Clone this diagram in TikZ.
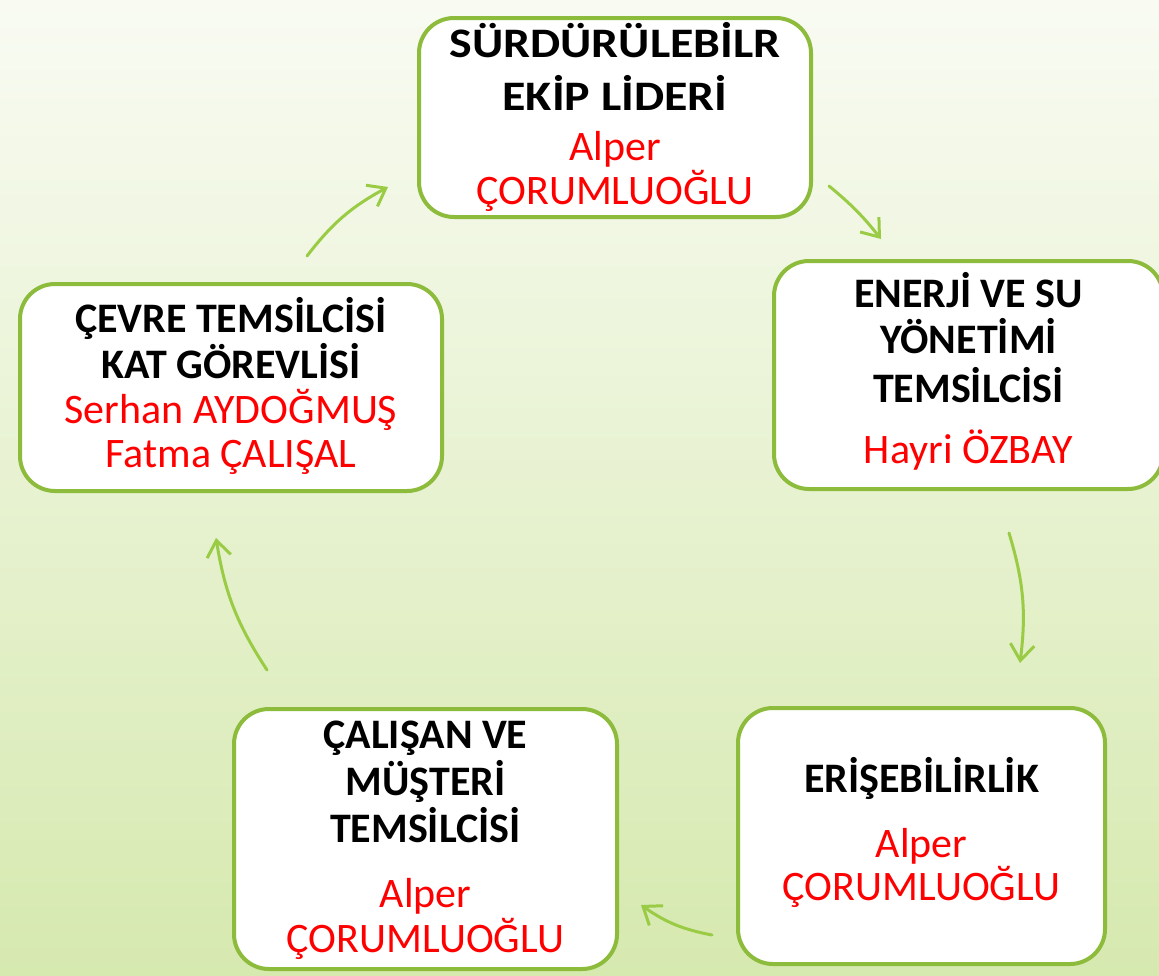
\documentclass[tikz,border=0pt]{standalone}
\usepackage{fontspec}
\setmainfont{Carlito}
\usetikzlibrary{arrows.meta}
\definecolor{bgtop}{HTML}{F9FBF3}
\definecolor{bgbot}{HTML}{D6E9AF}
\definecolor{boxline}{HTML}{8DBB3B}
\definecolor{arrowc}{HTML}{9ACB45}
\newcommand{\wideline}[1]{\scalebox{1.14}[1]{#1}}
\tikzset{
  box/.style={draw=boxline, line width=4pt, fill=white, rounded corners=35pt, inner sep=0pt},
  hd/.style={anchor=base, font=\fontsize{42}{46}\selectfont\bfseries, text=black, inner sep=0pt},
  nm/.style={anchor=base, font=\fontsize{42}{46}\selectfont, text=red, inner sep=0pt},
  flow/.style={draw=arrowc, line width=3pt, line cap=round,
    -{Straight Barb[length=16pt,width=24pt,line width=3pt]}, bend left=12},
}
\begin{document}
\begin{tikzpicture}[x=1pt,y=-1pt]
\useasboundingbox (0,0) rectangle (1159,975);
\shade[top color=bgtop, bottom color=bgbot] (0,0) rectangle (1159,975);

% boxes
\node[box, minimum width=392pt, minimum height=199pt] (lead) at (615,117.5) {};
\node[box, minimum width=389pt, minimum height=228pt] (energy) at (968.5,375) {};
\node[box, minimum width=367pt, minimum height=256pt] (access) at (921.5,836) {};
\node[box, minimum width=383pt, minimum height=260pt] (staff) at (425.5,839) {};
\node[box, minimum width=422pt, minimum height=207pt] (env) at (231,387.5) {};

% texts: top box
\node[hd] (leadA) at (615,57) {\wideline{SÜRDÜRÜLEBİLR}};
\node[hd] (leadB) at (615,110) {\wideline{EKİP LİDERİ}};
\node[nm] (leadC) at (615,160) {Alper};
\node[nm] (leadD) at (615,204) {ÇORUMLUOĞLU};

% right box
\node[hd] (energyA) at (968.5,307) {ENERJİ VE SU};
\node[hd] (energyB) at (968.5,353) {YÖNETİMİ};
\node[hd] (energyC) at (968.5,402) {TEMSİLCİSİ};
\node[nm] (energyD) at (968.5,463) {Hayri ÖZBAY};

% bottom right box
\node[hd] (accessA) at (921.5,792) {ERİŞEBİLİRLİK};
\node[nm] (accessB) at (921.5,857) {Alper};
\node[nm] (accessC) at (921.5,900) {ÇORUMLUOĞLU};

% bottom left box
\node[hd] (staffA) at (425.5,748) {ÇALIŞAN VE};
\node[hd] (staffB) at (425.5,795) {MÜŞTERİ};
\node[hd] (staffC) at (425.5,842) {TEMSİLCİSİ};
\node[nm] (staffD) at (425.5,907) {Alper};
\node[nm] (staffE) at (425.5,952) {ÇORUMLUOĞLU};

% left box
\node[hd] (envA) at (231,332) {ÇEVRE TEMSİLCİSİ};
\node[hd] (envB) at (231,378) {KAT GÖREVLİSİ};
\node[nm] (envC) at (231,423) {Serhan AYDOĞMUŞ};
\node[nm] (envD) at (231,467) {Fatma ÇALIŞAL};

% arrow end points
\coordinate (a1s) at (307,256); \coordinate (a1e) at (388,187);
\coordinate (a2s) at (829,186); \coordinate (a2e) at (881,239);
\coordinate (a3s) at (1009,533); \coordinate (a3e) at (1020,663);
\coordinate (a4s) at (712,935); \coordinate (a4e) at (641,905);
\coordinate (a5s) at (267,670); \coordinate (a5e) at (216,538);

\draw[flow] (a1s) to (a1e);
\draw[flow, bend left=6] (a2s) to (a2e);
\draw[flow] (a3s) to (a3e);
\draw[flow] (a4s) to (a4e);
\draw[flow] (a5s) to (a5e);
\end{tikzpicture}
\end{document}
